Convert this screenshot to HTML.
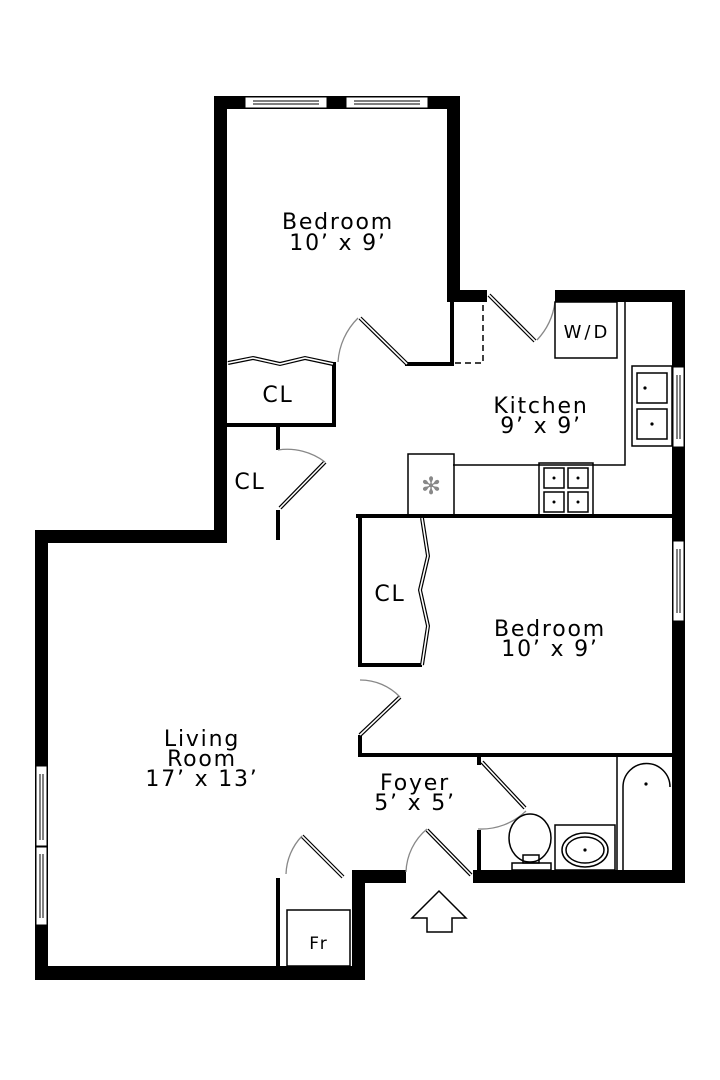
<!DOCTYPE html>
<html><head><style>
html,body{margin:0;padding:0;background:#fff;}
svg{display:block}
text{font-family:"DejaVu Sans","Liberation Sans",sans-serif;fill:#000;text-anchor:middle}
.lb{font-size:22px;letter-spacing:1.8px}
</style></head><body>
<svg width="720" height="1080" viewBox="0 0 720 1080" xmlns="http://www.w3.org/2000/svg">
<g fill="#000">
<rect x="214" y="96" width="13" height="446"/>
<rect x="214" y="96" width="246" height="13"/>
<rect x="447" y="96" width="13" height="206"/>
<rect x="447" y="290" width="40" height="12"/>
<rect x="555" y="290" width="130" height="12"/>
<rect x="672" y="290" width="13" height="593"/>
<rect x="35" y="530" width="192" height="13"/>
<rect x="35" y="530" width="13" height="450"/>
<rect x="35" y="966" width="330" height="14"/>
<rect x="352" y="870" width="13" height="110"/>
<rect x="352" y="870" width="54" height="13"/>
<rect x="473" y="870" width="212" height="13"/>
</g>
<g fill="#fff" stroke="#000" stroke-width="1">
<rect x="245" y="97" width="82" height="11"/>
<rect x="346" y="97" width="82" height="11"/>
<rect x="673" y="367" width="11" height="80"/>
<rect x="673" y="541" width="11" height="80"/>
<rect x="36" y="766" width="11" height="80"/>
<rect x="36" y="847" width="11" height="78"/>
</g>
<g stroke="#000" stroke-width="1" fill="none">
<line x1="253" y1="101" x2="319" y2="101"/><line x1="253" y1="104" x2="319" y2="104"/>
<line x1="354" y1="101" x2="420" y2="101"/><line x1="354" y1="104" x2="420" y2="104"/>
<line x1="677" y1="375" x2="677" y2="439"/><line x1="680" y1="375" x2="680" y2="439"/>
<line x1="677" y1="549" x2="677" y2="613"/><line x1="680" y1="549" x2="680" y2="613"/>
<line x1="40" y1="774" x2="40" y2="840"/><line x1="43" y1="774" x2="43" y2="840"/>
<line x1="40" y1="854" x2="40" y2="918"/><line x1="43" y1="854" x2="43" y2="918"/>
</g>
<g stroke="#000" stroke-width="4" fill="none">
<polyline points="405,364 452,364 452,300"/>
<polyline points="227,425 334,425 334,362"/>
<line x1="278" y1="425" x2="278" y2="450"/>
<line x1="278" y1="510" x2="278" y2="540"/>
<line x1="356" y1="516" x2="672" y2="516"/>
<polyline points="360,516 360,665 422,665"/>
<polyline points="360,735 360,755 672,755"/>
<line x1="479" y1="755" x2="479" y2="765"/>
<line x1="479" y1="830" x2="479" y2="872"/>
<line x1="278" y1="878" x2="278" y2="966"/>
</g>
<g stroke="#000" stroke-width="1.5" stroke-dasharray="6,4" fill="none">
<polyline points="455,363 483,363 483,302"/>
</g>
<g stroke="#000" stroke-width="4" fill="none">
<line x1="360" y1="318" x2="407" y2="364"/>
<line x1="489" y1="295" x2="535" y2="341"/>
<line x1="325" y1="462" x2="280" y2="508"/>
<line x1="400" y1="697" x2="360" y2="735"/>
<line x1="482" y1="762" x2="525" y2="808"/>
<line x1="427" y1="830" x2="471" y2="875"/>
<line x1="302" y1="836" x2="343" y2="877"/>
<polyline points="228,363 253,358 280,364 305,358 333,364"/>
<polyline points="422,518 428,556 420,590 428,626 422,665"/>
</g>
<g stroke="#fff" stroke-width="1.6" fill="none">
<line x1="360" y1="318" x2="407" y2="364"/>
<line x1="489" y1="295" x2="535" y2="341"/>
<line x1="325" y1="462" x2="280" y2="508"/>
<line x1="400" y1="697" x2="360" y2="735"/>
<line x1="482" y1="762" x2="525" y2="808"/>
<line x1="427" y1="830" x2="471" y2="875"/>
<line x1="302" y1="836" x2="343" y2="877"/>
<polyline points="228,363 253,358 280,364 305,358 333,364"/>
<polyline points="422,518 428,556 420,590 428,626 422,665"/>
</g>
<g stroke="#888" stroke-width="1.3" fill="none">
<path d="M338,362 A68,68 0 0 1 358,318"/>
<path d="M537,340 A68,68 0 0 0 555,302"/>
<path d="M278,450 A62,62 0 0 1 325,462"/>
<path d="M360,680 A55,55 0 0 1 400,697"/>
<path d="M478,829 A65,65 0 0 0 526,811"/>
<path d="M406,872 A58,58 0 0 1 427,829"/>
<path d="M286,874 A58,58 0 0 1 302,836"/>
</g>
<g stroke="#000" stroke-width="1.5" fill="none">
<rect x="555" y="302" width="62" height="56"/>
<polyline points="625,302 625,465 453,465"/>
<rect x="408" y="454" width="46" height="62"/>
<rect x="539" y="463" width="54" height="53"/>
<rect x="544" y="468" width="20" height="20"/><rect x="568" y="468" width="20" height="20"/>
<rect x="544" y="492" width="20" height="20"/><rect x="568" y="492" width="20" height="20"/>
<rect x="632" y="366" width="40" height="80"/>
<rect x="637" y="373" width="30" height="30"/>
<rect x="637" y="409" width="30" height="30"/>
<rect x="555" y="825" width="60" height="45"/>
<ellipse cx="585" cy="850" rx="23" ry="17"/>
<ellipse cx="585" cy="850" rx="19" ry="13"/>
<line x1="617" y1="757" x2="617" y2="870"/>
<path d="M623,870 L623,787 A23,23 0 0 1 670,787"/>
<ellipse cx="530" cy="838" rx="21" ry="24"/>
<rect x="523" y="855" width="16" height="8"/>
<rect x="512" y="863" width="39" height="7"/>
<rect x="287" y="910" width="63" height="56"/>
<path d="M427,932 L427,918 L412,918 L439,891 L466,918 L452,918 L452,932 Z"/>
</g>
<g fill="#000">
<circle cx="645" cy="388" r="1.6"/><circle cx="652" cy="424" r="1.6"/>
<circle cx="585" cy="850" r="1.6"/><circle cx="646" cy="784" r="1.6"/>
<circle cx="554" cy="478" r="1.5"/><circle cx="578" cy="478" r="1.5"/>
<circle cx="554" cy="502" r="1.5"/><circle cx="578" cy="502" r="1.5"/>
</g>
<text x="431" y="494" font-size="24" style="fill:#888">✻</text>
<g class="lb">
<text x="338" y="229">Bedroom</text><text x="338" y="250">10’ x 9’</text>
<text x="541" y="413">Kitchen</text><text x="541" y="433">9’ x 9’</text>
<text x="278" y="402">CL</text>
<text x="250" y="489">CL</text>
<text x="390" y="601">CL</text>
<text x="550" y="636">Bedroom</text><text x="550" y="656">10’ x 9’</text>
<text x="202" y="746">Living</text><text x="202" y="766">Room</text><text x="202" y="786">17’ x 13’</text>
<text x="415" y="790">Foyer</text><text x="415" y="810">5’ x 5’</text>
</g>
<text x="587" y="338" font-size="18" letter-spacing="3">W/D</text>
<text x="319" y="949" font-size="17" letter-spacing="2">Fr</text>
</svg>
</body></html>
